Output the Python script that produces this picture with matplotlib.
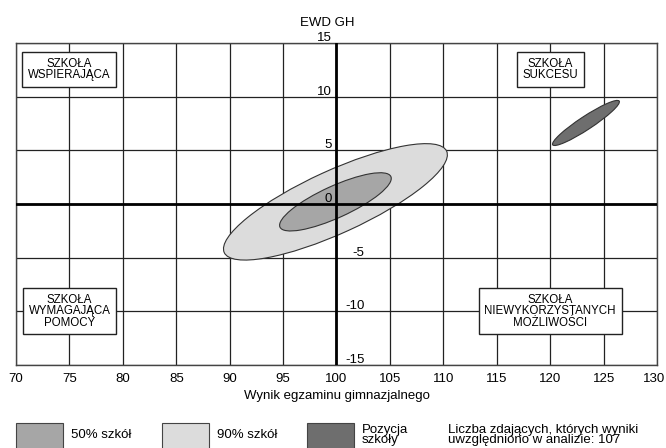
import matplotlib
matplotlib.use("Agg")
import matplotlib.pyplot as plt
from matplotlib.patches import Ellipse, Rectangle
from matplotlib.transforms import ScaledTranslation

plt.rcParams['font.family'] = ['Liberation Sans', 'DejaVu Sans']

# Axis ranges and tick labels
x_ticks = [70, 75, 80, 85, 90, 95, 100, 105, 110, 115, 120, 125, 130]
y_ticks = [15, 10, 5, 0, -5, -10, -15]

# Ellipses: 90% of schools, 50% of schools, school position
ell_labels = ['90% szkół', '50% szkół', 'Pozycja szkoły']
ell_cx = [99.9, 99.9, 123.35]
ell_cy = [0.2, 0.2, 7.55]
ell_a = [11.43, 5.7, 3.72]    # semi-major
ell_b = [2.93, 1.48, 0.62]    # semi-minor
ell_angle = [24.4, 24.4, 33.2]
ell_colors = ['#dcdcdc', '#a6a6a6', '#6e6e6e']

# Quadrant labels
quad_text = ['SZKOŁA\nWSPIERAJĄCA', 'SZKOŁA\nSUKCESU',
             'SZKOŁA\nWYMAGAJĄCA\nPOMOCY', 'SZKOŁA\nNIEWYKORZYSTANYCH\nMOŻLIWOŚCI']
quad_x = [75, 120, 75, 120]
quad_y = [12.5, 12.5, -10, -10]

fig = plt.figure(figsize=(6.66, 4.48), dpi=100)
ax = fig.add_axes([16 / 666, 83 / 448, 641 / 666, 322 / 448])
ax.set_xlim(70, 130)
ax.set_ylim(-15, 15)

# grid
for x in x_ticks:
    ax.axvline(x, color='#222222', lw=0.9, zorder=1)
for y in y_ticks:
    ax.axhline(y, color='#222222', lw=0.9, zorder=1)
ax.axvline(100, color='black', lw=2.0, zorder=4)
ax.axhline(0, color='black', lw=2.0, zorder=4)

for s in ax.spines.values():
    s.set_color('#444444')
    s.set_linewidth(1.0)

# ellipses
for cx, cy, a, b, ang, col in zip(ell_cx, ell_cy, ell_a, ell_b, ell_angle, ell_colors):
    ax.add_patch(Ellipse((cx, cy), 2 * a, 2 * b, angle=ang, facecolor=col,
                         edgecolor='#333333', lw=0.8, zorder=3))

# quadrant boxes
for txt, qx, qy in zip(quad_text, quad_x, quad_y):
    ax.text(qx, qy, txt, ha='center', va='center', fontsize=8.3,
            family=['Liberation Sans Narrow', 'Liberation Sans'], linespacing=0.92,
            bbox=dict(boxstyle='square,pad=0.5', facecolor='white',
                      edgecolor='#222222', lw=1.0), zorder=5)

# x ticks
ax.set_xticks(x_ticks)
ax.set_xticklabels([str(v) for v in x_ticks], fontsize=9.5)
ax.set_yticks([])
ax.tick_params(axis='x', length=0, pad=6)
last = ax.get_xticklabels()[-1]
last.set_transform(last.get_transform() + ScaledTranslation(-2 / 72, 0, fig.dpi_scale_trans))
ax.set_xlabel('Wynik egzaminu gimnazjalnego', fontsize=9.5, labelpad=3)

# y labels next to the vertical axis
for y in y_ticks:
    dx = -3.5 if y >= 0 else 20
    ax.annotate(str(y), (100, y), xytext=(dx, 1.5), textcoords='offset points',
                ha='right', va='baseline', fontsize=9.5, zorder=6,
                annotation_clip=False)

ax.annotate('EWD GH', (99.1, 15), xytext=(0, 12), textcoords='offset points',
            ha='center', va='baseline', fontsize=9.5, annotation_clip=False)

# legend at the bottom
leg_x = [16, 162, 307]
leg_colors = ['#a6a6a6', '#dcdcdc', '#6e6e6e']
leg_text = ['50% szkół', '90% szkół', 'Pozycja\nszkoły']
for lx, col, txt in zip(leg_x, leg_colors, leg_text):
    fig.patches.append(Rectangle((lx / 666, -0.05), 47 / 666, 0.05 + 25 / 448,
                                 transform=fig.transFigure, facecolor=col,
                                 edgecolor='#444444', lw=0.8))
    fig.text((lx + 55) / 666, 13 / 448, txt, ha='left', va='center',
             fontsize=9.5, linespacing=0.8)
fig.text(448 / 666, 13 / 448,
         'Liczba zdających, których wyniki\nuwzględniono w analizie: 107',
         ha='left', va='center', fontsize=9.5, linespacing=0.8)

fig.savefig('out.png', dpi=100)
